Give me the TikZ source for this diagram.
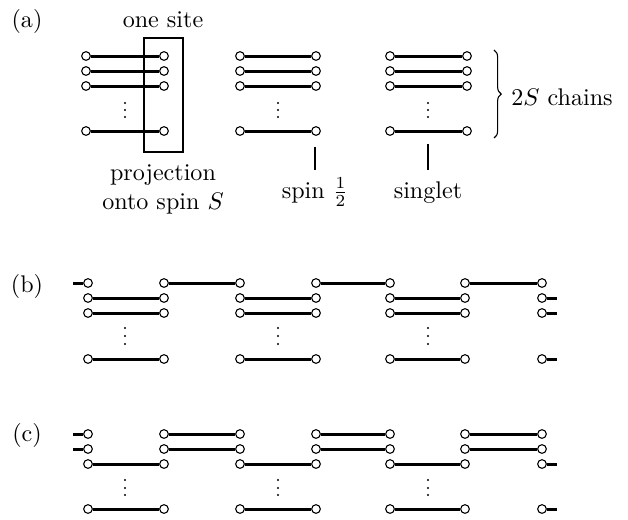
\documentclass[tikz,border=0pt]{standalone}
\usetikzlibrary{decorations.pathreplacing}
\begin{document}
\begin{tikzpicture}[x=0.415pt,y=-0.415pt,
  site/.style={circle,draw,fill=white,inner sep=0pt,minimum size=3.6pt,line width=0.45pt},
  bond/.style={line width=1.25pt},
  thin/.style={line width=0.45pt},
  dotmark/.style={fill=black},
  lbl/.style={inner sep=0pt,font=\fontsize{10}{12}\selectfont}]
\useasboundingbox (0,0) rectangle (628,519);
% ---------- (a) ----------
\node[lbl] (la) at (27,21) {(a)};
\node[lbl] (onesite) at (163,20) {one site};
\node[draw,thin,minimum width=16.2pt,minimum height=47.3pt,inner sep=0pt] (box) at (163.5,95) {};
\foreach \g/\xl/\xr in {1/86/164,2/240/316,3/390/467}{
  \foreach \r/\y in {1/56,2/71,3/86,4/131}{
    \node[site] (a-\g-\r-L) at (\xl,\y) {};
    \node[site] (a-\g-\r-R) at (\xr,\y) {};
    \draw[bond] (a-\g-\r-L) -- (a-\g-\r-R);
  }
}
\foreach \x in {125,278,428}{
  \foreach \y in {103,110,117}{ \fill[dotmark] (\x,\y) circle (0.5pt); }
}
\node[lbl,align=center,anchor=north] (proj) at (163,164) {projection\\onto spin $S$};
\coordinate (t1a) at (315,147);
\coordinate (t1b) at (315,170);
\coordinate (t2a) at (428,144);
\coordinate (t2b) at (428,170);
\draw[thin] (t1a) -- (t1b);
\draw[thin] (t2a) -- (t2b);
\node[lbl,anchor=base] (spin) at (315,198) {spin $\frac{1}{2}$};
\node[lbl,anchor=base] (singlet) at (428,198) {singlet};
\coordinate (bt) at (494,50);
\coordinate (bb) at (494,138);
\draw[thin,decorate,decoration={brace,amplitude=3pt}] (bt) -- (bb);
\node[lbl] (chains) at (562,97) {$2S$ chains};
% ---------- (b) ----------
\node[lbl] (lb) at (27,286) {(b)};
\foreach \r/\y in {1/283,2/298,3/313,4/359}{
  \coordinate (b-0-\r) at (73,\y);
  \coordinate (b-8-\r) at (557,\y);
  \foreach \c/\x in {1/88,2/164,3/240,4/316,5/390,6/465,7/542}{
    \node[site] (b-\c-\r) at (\x,\y) {};
  }
}
\foreach \a/\b in {0/1,2/3,4/5,6/7}{ \draw[bond] (b-\a-1) -- (b-\b-1); }
\foreach \r in {2,3,4}{
  \foreach \a/\b in {1/2,3/4,5/6,7/8}{ \draw[bond] (b-\a-\r) -- (b-\b-\r); }
}
\foreach \x in {125,278,428}{
  \foreach \y in {328,336,344}{ \fill[dotmark] (\x,\y) circle (0.5pt); }
}
% ---------- (c) ----------
\node[lbl] (lc) at (27,435) {(c)};
\foreach \r/\y in {1/434,2/449,3/464,4/509}{
  \coordinate (c-0-\r) at (73,\y);
  \coordinate (c-8-\r) at (557,\y);
  \foreach \c/\x in {1/88,2/164,3/240,4/316,5/390,6/465,7/542}{
    \node[site] (c-\c-\r) at (\x,\y) {};
  }
}
\foreach \r in {1,2}{
  \foreach \a/\b in {0/1,2/3,4/5,6/7}{ \draw[bond] (c-\a-\r) -- (c-\b-\r); }
}
\foreach \r in {3,4}{
  \foreach \a/\b in {1/2,3/4,5/6,7/8}{ \draw[bond] (c-\a-\r) -- (c-\b-\r); }
}
\foreach \x in {125,278,428}{
  \foreach \y in {480,488,495}{ \fill[dotmark] (\x,\y) circle (0.5pt); }
}
\end{tikzpicture}
\end{document}
